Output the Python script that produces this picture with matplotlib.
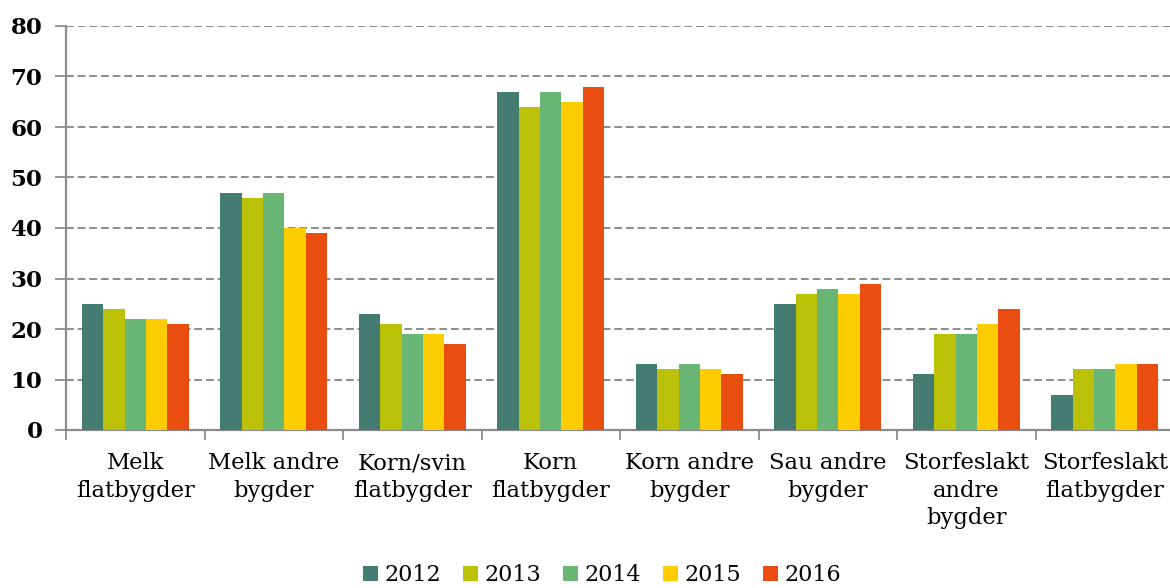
import numpy as np
import matplotlib
matplotlib.use("Agg")
import matplotlib.pyplot as plt

categories = ["Melk\nflatbygder", "Melk andre\nbygder", "Korn/svin\nflatbygder",
              "Korn\nflatbygder", "Korn andre\nbygder", "Sau andre\nbygder",
              "Storfeslakt\nandre\nbygder", "Storfeslakt\nflatbygder"]
years = ["2012", "2013", "2014", "2015", "2016"]
v2012 = [25, 47, 23, 67, 13, 25, 11, 7]
v2013 = [24, 46, 21, 64, 12, 27, 19, 12]
v2014 = [22, 47, 19, 67, 13, 28, 19, 12]
v2015 = [22, 40, 19, 65, 12, 27, 21, 13]
v2016 = [21, 39, 17, 68, 11, 29, 24, 13]
series = [v2012, v2013, v2014, v2015, v2016]
colors = ["#457c71", "#bbc109", "#69b674", "#ffcc00", "#e94e10"]

plt.rcParams['font.family'] = ['DejaVu Serif']

fig = plt.figure(figsize=(11.7, 5.88), dpi=100)
ax = fig.add_axes([66 / 1170, 1 - 430 / 588, 1108 / 1170, 404 / 588])

x = np.arange(len(categories))
w = 0.155
for i, (vals, c, yr) in enumerate(zip(series, colors, years)):
    ax.bar(x + (i - 2) * w, vals, w, color=c, label=yr, zorder=3)

ax.set_xlim(-0.5, len(categories) - 0.5)
ax.set_ylim(0, 80)
ax.set_yticks(range(0, 81, 10))
ax.yaxis.grid(True, linestyle=(0, (4, 2)), color="#8c8c8c", linewidth=1.4, zorder=0)

ax.set_xticks(np.arange(-0.5, len(categories), 1))
ax.set_xticklabels([])
ax.set_xticks(x, minor=True)
ax.set_xticklabels(categories, minor=True, fontsize=16.3, linespacing=1.32, va="top")
ax.tick_params(axis="x", which="minor", length=0, pad=16)
ax.tick_params(axis="x", which="major", length=7, width=1.3, color="#8c8c8c")
ax.tick_params(axis="y", length=8, width=1.3, color="#8c8c8c", labelsize=16.5, pad=9)
for lbl in ax.get_yticklabels():
    lbl.set_fontweight("bold")

for s in ["top", "right"]:
    ax.spines[s].set_visible(False)
for s in ["left", "bottom"]:
    ax.spines[s].set_color("#8c8c8c")
    ax.spines[s].set_linewidth(1.6)

fig.legend(loc="center", bbox_to_anchor=(0.5145, 0.022), ncol=5, frameon=False,
           fontsize=16, handlelength=0.65, handleheight=0.65, handletextpad=0.3,
           columnspacing=1.0)

fig.savefig("out.png", dpi=100)
